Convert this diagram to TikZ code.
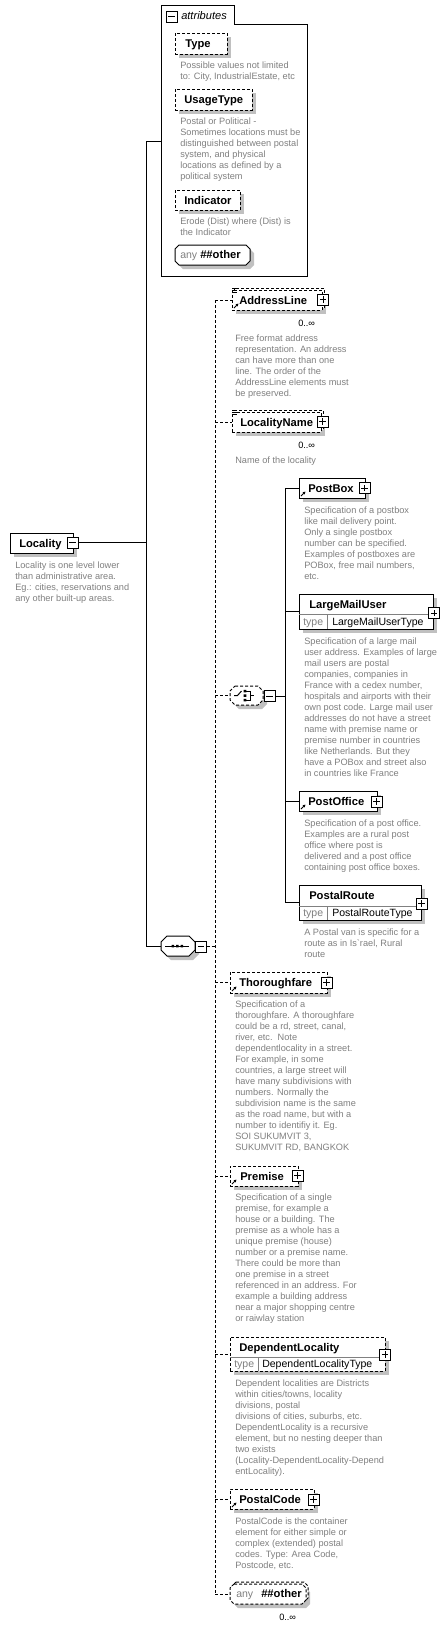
\documentclass[tikz,border=0pt]{standalone}
\usepackage{fontspec}
\setmainfont{Liberation Sans}
\usetikzlibrary{arrows.meta}
\pgfdeclarelayer{bg}
\pgfdeclarelayer{shadows}
\pgfdeclarelayer{backs}
\pgfsetlayers{bg,shadows,backs,main}
\definecolor{descgray}{RGB}{128,128,128}
\definecolor{shadowgray}{RGB}{192,192,192}
\definecolor{typegray}{RGB}{128,128,128}
\newcommand\fdesc{\fontsize{6.9}{8}\selectfont}
\newcommand\fname{\fontsize{8.4}{10}\selectfont\bfseries}
\newcommand\ftype{\fontsize{7.9}{9}\selectfont}
\newcommand\fattr{\fontsize{8.3}{10}\selectfont\itshape}
\tikzset{
  edge/.style={line width=0.75pt},
  optedge/.style={line width=0.75pt,dash pattern=on 2.25pt off 1.5pt},
  solidbox/.style={draw,line width=0.75pt,fill=white},
  dashbox/.style={solidbox,dash pattern=on 2.25pt off 1.5pt},
  elembox/.style={rectangle,inner sep=0pt,outer sep=0pt,anchor=north west},
  hitbox/.style={rectangle,inner sep=0pt,outer sep=0pt,anchor=north west,draw=none},
  btnbox/.style={rectangle,draw,fill=white,line width=0.75pt,minimum size=8.25pt,inner sep=0pt,outer sep=0pt},
  btnline/.style={line width=0.75pt},
  desc/.style={anchor=base west,inner sep=0pt,font=\fdesc,text=descgray},
  lbl/.style={anchor=base west,inner sep=0pt,font=\fname},
  tlbl/.style={anchor=base west,inner sep=0pt,font=\ftype},
  mult/.style={anchor=base west,inner sep=0pt,font=\fdesc},
  refarrow/.style={line width=0.6pt,-{Triangle[length=2pt,width=2pt]}},
}
% name, x1, y1, x2, y2, style
\newcommand\ebox[6]{%
  \node[elembox,#6,minimum width={(#4-#2)*0.75pt},minimum height={(#5-#3)*0.75pt}] (#1) at (#2,#3) {};
  \begin{pgfonlayer}{shadows}
    \fill[shadowgray] ([shift={(4,4)}]#1.north west) rectangle ([shift={(4,4)}]#1.south east);
  \end{pgfonlayer}}
\newcommand\backbox[6]{%
  \begin{pgfonlayer}{backs}
    \node[elembox,#6,minimum width={(#4-#2)*0.75pt},minimum height={(#5-#3)*0.75pt}] (#1-back) at (#2+2,#3-2) {};
  \end{pgfonlayer}}
% name, x1, y1, x2, y2, chamfer, style
\newcommand\octnode[7]{%
  \begin{pgfonlayer}{shadows}
    \fill[shadowgray] (#2+#6+4,#3+4) -- (#4-#6+4,#3+4) -- (#4+4,#3+#6+4) -- (#4+4,#5-#6+4) -- (#4-#6+4,#5+4) -- (#2+#6+4,#5+4) -- (#2+4,#5-#6+4) -- (#2+4,#3+#6+4) -- cycle;
  \end{pgfonlayer}
  \draw[#7] (#2+#6,#3) -- (#4-#6,#3) -- (#4,#3+#6) -- (#4,#5-#6) -- (#4-#6,#5) -- (#2+#6,#5) -- (#2,#5-#6) -- (#2,#3+#6) -- cycle;
  \node[hitbox,minimum width={(#4-#2)*0.75pt},minimum height={(#5-#3)*0.75pt}] (#1) at (#2,#3) {};}
\newcommand\backocto[6]{%
  \begin{pgfonlayer}{backs}
    \draw[#6] (#1+#5+2,#2-2) -- (#3-#5+2,#2-2) -- (#3+2,#2+#5-2) -- (#3+2,#4-#5-2) -- (#3-#5+2,#4-2) -- (#1+#5+2,#4-2) -- (#1+2,#4-#5-2) -- (#1+2,#2+#5-2) -- cycle;
  \end{pgfonlayer}}
\newcommand\plusbtn[3]{%
  \node[btnbox] (#1) at (#2,#3) {};
  \draw[btnline] ([xshift=-2.4pt]#1.center) -- ([xshift=2.4pt]#1.center) ([yshift=-2.4pt]#1.center) -- ([yshift=2.4pt]#1.center);}
\newcommand\minusbtn[3]{%
  \node[btnbox] (#1) at (#2,#3) {};
  \draw[btnline] ([xshift=-2.4pt]#1.center) -- ([xshift=2.4pt]#1.center);}
% name, x, y center, text
\newcommand\elabel[4]{\node[lbl] (#1) at (#2,{#3+4}) {#4};}
% name, x, y of first line centre, lines
\newcommand\descr[4]{\foreach \t [count=\i] in {#4} {\node[desc] (#1-\i) at (#2,{#3+2.5+(\i-1)*11}) {\t};}}
\newcommand\refmark[1]{\draw[refarrow] ([shift={(2,-2)}]#1.south west) -- ([shift={(6.5,-6.5)}]#1.south west);}
\newcommand\listmark[1]{\foreach \k in {-2,0,2} {\draw[line width=0.5pt] ([shift={(0,\k)}]#1.north west) -- ([shift={(5,\k)}]#1.north west);}}

\begin{document}
\begin{tikzpicture}[x=0.75pt,y=-0.75pt]
\begin{pgfonlayer}{bg}
  \fill[white] (0,0) rectangle (448,1629);
\end{pgfonlayer}
\useasboundingbox (0,0) rectangle (448,1629);

% ---------- attributes container ----------
\node[hitbox,minimum width=109.5pt,minimum height=203.25pt] (attr) at (161,5) {};
\draw[edge] (161,5) -- (234,5) -- (234,24) -- (307,24) -- (307,276) -- (161,276) -- cycle;
\minusbtn{attr-m}{171.5}{16.5}
\node[anchor=base west,inner sep=0pt,font=\fattr] (attr-t) at (181,19) {attributes};

\ebox{Type}{175}{33}{227}{54}{dashbox}
\elabel{Type-t}{185}{43.5}{Type}
\descr{Type-d}{180}{65.5}{{Possible values not limited},{to: City, IndustrialEstate, etc}}

\ebox{UsageType}{175}{89}{252}{110}{dashbox}
\elabel{UsageType-t}{184}{99.5}{UsageType}
\descr{UsageType-d}{180}{122}{{Postal or Political -},{Sometimes locations must be},{distinguished between postal},{system, and physical},{locations as defined by a},{political system}}

\ebox{Indicator}{175}{190}{240}{210}{dashbox}
\elabel{Indicator-t}{184}{200}{Indicator}
\descr{Indicator-d}{180}{222}{{Erode (Dist) where (Dist) is},{the Indicator}}

\octnode{attrany}{175}{245}{250}{265}{4}{solidbox}
\node[tlbl,text=typegray] (attrany-a) at (180,258.5) {any};
\node[lbl] (attrany-t) at (200,258.5) {\#\#other};

% ---------- Locality ----------
\ebox{Locality}{10}{533}{73}{553}{solidbox}
\elabel{Locality-t}{19}{543}{Locality}
\minusbtn{Locality-m}{72.5}{542.5}
\descr{Locality-d}{15}{566}{{Locality is one level lower},{than administrative area.},{Eg.: cities, reservations and},{any other built-up areas.}}

% ---------- sequence ----------
\octnode{seq}{161}{936}{195}{956}{6}{solidbox}
\draw[line width=0.75pt] (165,946) -- (189,946);
\fill (171.5,944.8) rectangle (174,947.3) (176,944.8) rectangle (178.5,947.3) (180.5,944.8) rectangle (183,947.3);
\minusbtn{seq-m}{201}{946.5}

% ---------- AddressLine ----------
\backbox{AddressLine}{232}{290}{322}{310}{dashbox}
\ebox{AddressLine}{232}{290}{322}{310}{dashbox}
\elabel{AddressLine-t}{239}{300}{AddressLine}
\plusbtn{AddressLine-p}{323}{299.5}
\listmark{AddressLine}
\refmark{AddressLine}
\node[mult] (AddressLine-n) at (298,326.5) {0..∞};
\descr{AddressLine-d}{235}{339}{{Free format address},{representation. An address},{can have more than one},{line. The order of the},{AddressLine elements must},{be preserved.}}

% ---------- LocalityName ----------
\backbox{LocalityName}{232}{412}{321}{432}{dashbox}
\ebox{LocalityName}{232}{412}{321}{432}{dashbox}
\elabel{LocalityName-t}{240}{422}{LocalityName}
\plusbtn{LocalityName-p}{322.5}{421.5}
\listmark{LocalityName}
\node[mult] (LocalityName-n) at (298,448.5) {0..∞};
\descr{LocalityName-d}{235}{461}{{Name of the locality}}

% ---------- choice ----------
\octnode{choice}{230}{686}{263}{705}{5}{dashbox}
\draw[line width=0.75pt] (234,695.5) -- (237.5,695.5) -- (241.5,691);
\fill (243.5,689.8) rectangle (246.3,692.3) (243.5,694.3) rectangle (246.3,696.8) (243.5,698.8) rectangle (246.3,701.3);
\draw[line width=0.75pt] (246.3,691) -- (250,691) -- (250,700) -- (246.3,700) (250,695.5) -- (253.5,695.5);
\minusbtn{choice-m}{269.5}{696}

\ebox{PostBox}{299}{478}{365}{498}{solidbox}
\elabel{PostBox-t}{308}{488}{PostBox}
\plusbtn{PostBox-p}{364.5}{488}
\refmark{PostBox}
\descr{PostBox-d}{304}{511}{{Specification of a postbox},{like mail delivery point.},{Only a single postbox},{number can be specified.},{Examples of postboxes are},{POBox, free mail numbers,},{etc.}}

\ebox{LargeMailUser}{299}{594}{433}{629}{solidbox}
\draw[line width=0.6pt,typegray] (299,614) -- (433,614);
\draw[line width=0.6pt,typegray] (327,614) -- (327,629);
\elabel{LargeMailUser-t}{309}{604}{LargeMailUser}
\node[tlbl,text=typegray] (LargeMailUser-k) at (303,625.5) {type};
\node[tlbl] (LargeMailUser-v) at (332,625.5) {LargeMailUserType};
\plusbtn{LargeMailUser-p}{434}{613}
\descr{LargeMailUser-d}{304}{642}{{Specification of a large mail},{user address. Examples of large},{mail users are postal},{companies, companies in},{France with a cedex number,},{hospitals and airports with their},{own post code. Large mail user},{addresses do not have a street},{name with premise name or},{premise number in countries},{like Netherlands. But they},{have a POBox and street also},{in countries like France}}

\ebox{PostOffice}{299}{791}{377}{811}{solidbox}
\elabel{PostOffice-t}{308}{801}{PostOffice}
\plusbtn{PostOffice-p}{376.5}{801.5}
\refmark{PostOffice}
\descr{PostOffice-d}{304}{824}{{Specification of a post office.},{Examples are a rural post},{office where post is},{delivered and a post office},{containing post office boxes.}}

\ebox{PostalRoute}{299}{885}{421}{920}{solidbox}
\draw[line width=0.6pt,typegray] (299,906) -- (421,906);
\draw[line width=0.6pt,typegray] (327,906) -- (327,920);
\elabel{PostalRoute-t}{309}{895.5}{PostalRoute}
\node[tlbl,text=typegray] (PostalRoute-k) at (303,916.5) {type};
\node[tlbl] (PostalRoute-v) at (332,916.5) {PostalRouteType};
\plusbtn{PostalRoute-p}{421.5}{903.5}
\descr{PostalRoute-d}{304}{933}{{A Postal van is specific for a},{route as in Is\textasciigrave rael, Rural},{route}}

% ---------- Thoroughfare ----------
\ebox{Thoroughfare}{230}{972}{327}{993}{dashbox}
\elabel{Thoroughfare-t}{239}{982.5}{Thoroughfare}
\plusbtn{Thoroughfare-p}{326.5}{982.5}
\refmark{Thoroughfare}
\descr{Thoroughfare-d}{235}{1005}{{Specification of a},{thoroughfare. A thoroughfare},{could be a rd, street, canal,},{river, etc.\ \ Note},{dependentlocality in a street.},{For example, in some},{countries, a large street will},{have many subdivisions with},{numbers. Normally the},{subdivision name is the same},{as the road name, but with a},{number to identifiy it. Eg.},{SOI SUKUMVIT 3,},{SUKUMVIT RD, BANGKOK}}

% ---------- Premise ----------
\ebox{Premise}{230}{1166}{298}{1186}{dashbox}
\elabel{Premise-t}{240}{1176}{Premise}
\plusbtn{Premise-p}{297.5}{1175.5}
\refmark{Premise}
\descr{Premise-d}{235}{1198}{{Specification of a single},{premise, for example a},{house or a building. The},{premise as a whole has a},{unique premise (house)},{number or a premise name.},{There could be more than},{one premise in a street},{referenced in an address. For},{example a building address},{near a major shopping centre},{or raiwlay station}}

% ---------- DependentLocality ----------
\ebox{DependentLocality}{230}{1337}{385}{1371}{dashbox}
\draw[line width=0.6pt,typegray] (230,1357) -- (385,1357);
\draw[line width=0.6pt,typegray] (258,1357) -- (258,1371);
\elabel{DependentLocality-t}{239}{1347}{DependentLocality}
\node[tlbl,text=typegray] (DependentLocality-k) at (234,1367.5) {type};
\node[tlbl] (DependentLocality-v) at (262,1367.5) {DependentLocalityType};
\plusbtn{DependentLocality-p}{385}{1354.5}
\descr{DependentLocality-d}{235}{1384}{{Dependent localities are Districts},{within cities/towns, locality},{divisions, postal},{divisions of cities, suburbs, etc.},{DependentLocality is a recursive},{element, but no nesting deeper than},{two exists},{(Locality-DependentLocality-Depend},{entLocality).}}

% ---------- PostalCode ----------
\ebox{PostalCode}{230}{1489}{314}{1509}{dashbox}
\elabel{PostalCode-t}{239}{1499}{PostalCode}
\plusbtn{PostalCode-p}{313.5}{1499.5}
\refmark{PostalCode}
\descr{PostalCode-d}{235}{1522}{{PostalCode is the container},{element for either simple or},{complex (extended) postal},{codes. Type: Area Code,},{Postcode, etc.}}

% ---------- any ##other ----------
\backocto{230}{1584}{306}{1604}{4}{dashbox}
\octnode{anyb}{230}{1584}{306}{1604}{4}{dashbox}
\node[tlbl,text=typegray] (anyb-a) at (236,1597.5) {any};
\node[lbl] (anyb-t) at (261,1597.5) {\#\#other};
\node[mult] (anyb-n) at (279,1620) {0..∞};

% ---------- connectors ----------
\coordinate (sp1t) at (146,141);
\coordinate (sp1b) at (146,946);
\coordinate (sp2t) at (215,300);
\coordinate (sp2b) at (215,1594);
\coordinate (sp3t) at (285,488);
\coordinate (sp3b) at (285,902.5);
\draw[edge] (Locality-m.east) -- (Locality-m.east -| sp1t);
\draw[edge] (sp1t) -- (sp1b);
\draw[edge] (sp1t) -- (sp1t -| attr.west);
\draw[edge] (sp1b) -- (sp1b -| seq.west);
\draw[optedge] (seq-m.east) -- (seq-m.east -| sp2t);
\draw[optedge] (sp2t) -- (sp2b);
\foreach \n in {AddressLine,LocalityName,choice,Thoroughfare,Premise,DependentLocality,PostalCode,anyb}
  {\draw[optedge] (\n.west -| sp2t) -- (\n.west);}
\draw[edge] (choice-m.east) -- (choice-m.east -| sp3t);
\draw[edge] (sp3t) -- (sp3b);
\foreach \n in {PostBox,LargeMailUser,PostOffice,PostalRoute}
  {\draw[edge] (\n.west -| sp3t) -- (\n.west);}
\end{tikzpicture}
\end{document}
